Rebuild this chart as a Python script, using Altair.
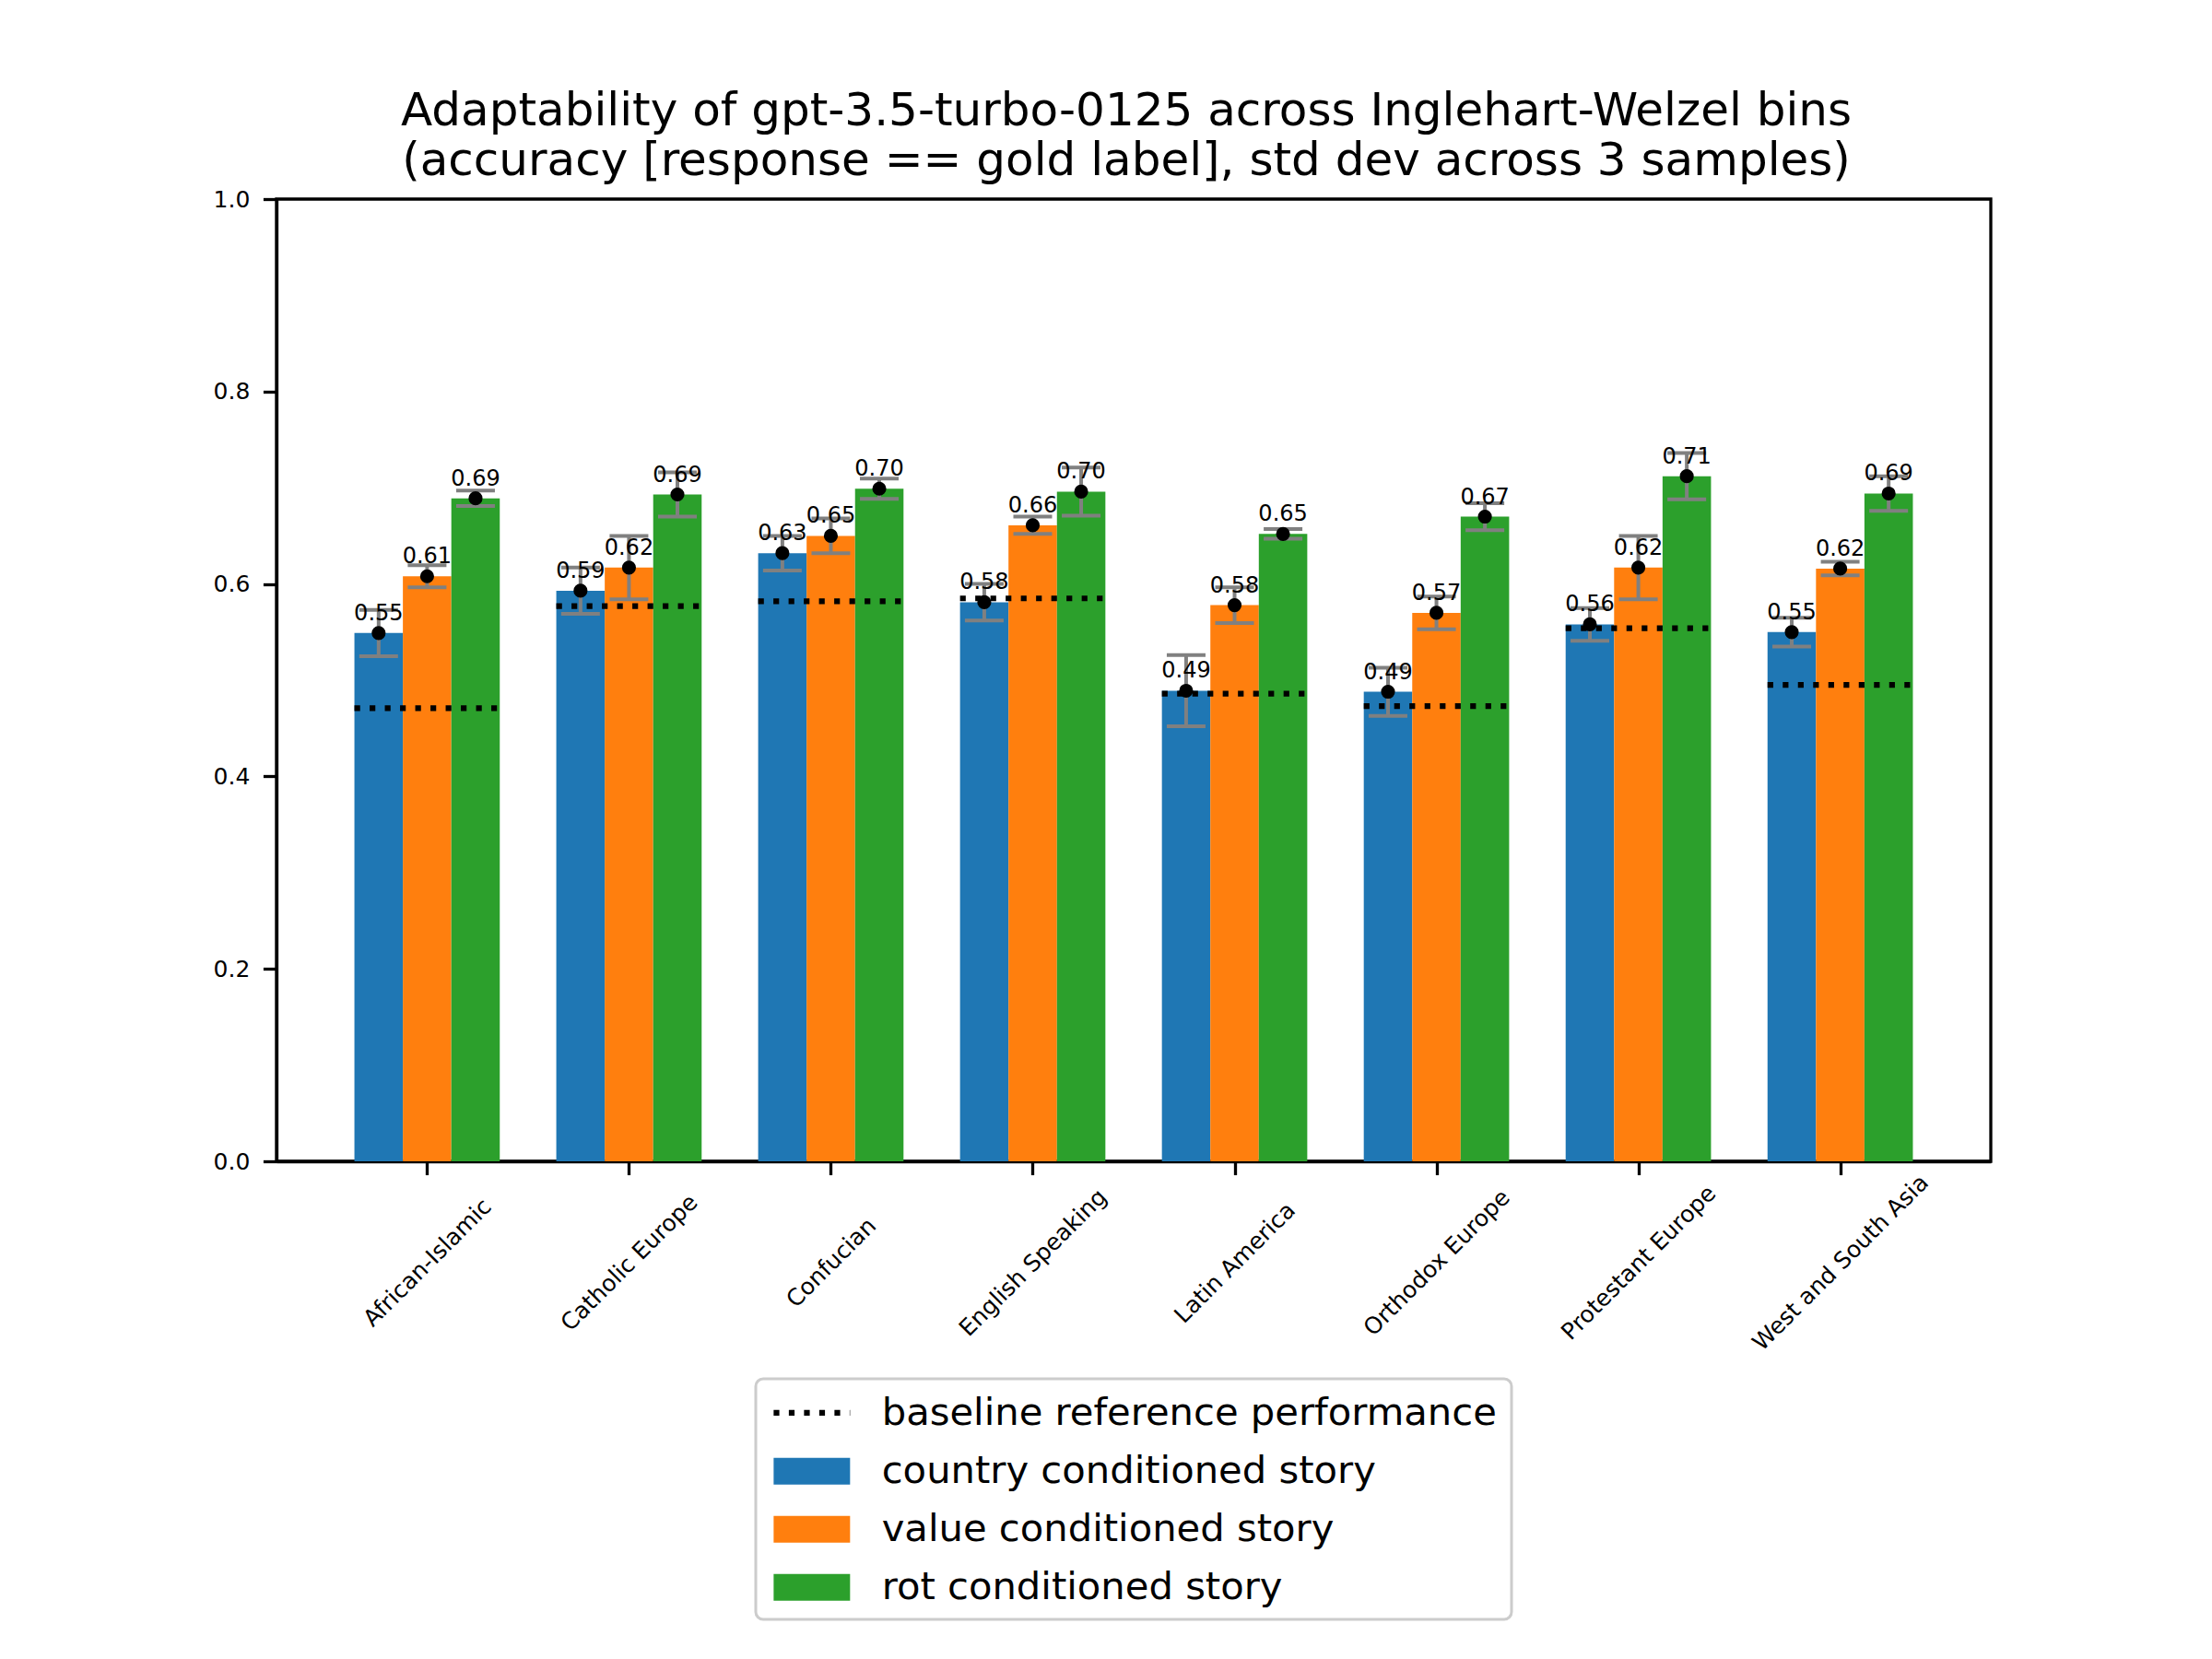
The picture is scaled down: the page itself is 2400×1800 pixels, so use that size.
import json
import altair as alt
import pandas as pd

categories = ["African-Islamic", "Catholic Europe", "Confucian", "English Speaking",
              "Latin America", "Orthodox Europe", "Protestant Europe", "West and South Asia"]
series_names = ["country conditioned story", "value conditioned story", "rot conditioned story"]
baseline_name = "baseline reference performance"

country_vals = [0.549, 0.593, 0.632, 0.581, 0.489, 0.488, 0.558, 0.550]
value_vals = [0.608, 0.617, 0.650, 0.661, 0.578, 0.570, 0.617, 0.616]
rot_vals = [0.689, 0.693, 0.699, 0.696, 0.652, 0.670, 0.712, 0.694]

country_std = [0.024, 0.024, 0.018, 0.019, 0.037, 0.025, 0.017, 0.015]
value_std = [0.0115, 0.033, 0.018, 0.009, 0.0185, 0.017, 0.033, 0.007]
rot_std = [0.008, 0.023, 0.0105, 0.025, 0.005, 0.014, 0.024, 0.018]

baseline_vals = [0.471, 0.577, 0.582, 0.585, 0.486, 0.473, 0.554, 0.495]

bar_colors = ["#1f77b4", "#ff7f0e", "#2ca02c"]

rows = []
for k, (name, vals, stds) in enumerate(zip(series_names,
                                            [country_vals, value_vals, rot_vals],
                                            [country_std, value_std, rot_std])):
    for i, cat in enumerate(categories):
        rows.append({"cat": cat, "idx": i, "series": name, "k": k, "v": vals[i], "s": stds[i]})
df = pd.DataFrame(rows)
bdf = pd.DataFrame({"cat": categories, "idx": list(range(len(categories))),
                    "base": baseline_vals, "kind": [baseline_name] * len(categories)})

FONT = "DejaVu Sans"
BAR_W = 0.24
X_MARGIN = 0.05 * (len(categories) - 1 + 3 * BAR_W)
X_LO = -1.5 * BAR_W - X_MARGIN
X_HI = len(categories) - 1 + 1.5 * BAR_W + X_MARGIN
DASH = [6.2, 10.3]
LEG_X, LEG_Y = 520, 1280
ROW_STEP = 63.4
LEG_FS = 41.7

xscale = alt.Scale(domain=[X_LO, X_HI], nice=False, zero=False)
yscale = alt.Scale(domain=[0, 1], nice=False)

label_expr = json.dumps(categories) + "[datum.value]"

x_axis = alt.Axis(values=list(range(len(categories))), labelExpr=label_expr, title=None,
                  labelAngle=-45, labelAlign="center", labelBaseline="middle",
                  labelPadding=95, labelFontSize=25, labelFont=FONT, labelColor="black",
                  labelLimit=0,
                  tickSize=14.6, tickWidth=3.3, tickColor="black", domainColor="black",
                  domainWidth=3.3, grid=False, labelOverlap=False, labelBound=False, labelFlush=False)
y_axis = alt.Axis(values=[0, 0.2, 0.4, 0.6, 0.8, 1.0], format=".1f", title=None,
                  labelFontSize=25, labelFont=FONT, labelColor="black", labelPadding=14.6,
                  tickSize=14.6, tickWidth=3.3, tickColor="black", domainColor="black",
                  domainWidth=3.3, grid=False, labelOverlap=False, labelFlush=False)

base = alt.Chart(df).transform_calculate(
    pos=f"datum.idx + (datum.k - 1) * {BAR_W}",
).transform_calculate(
    x0=f"datum.pos - {BAR_W / 2}",
    x1=f"datum.pos + {BAR_W / 2}",
    lo="datum.v - datum.s",
    hi="datum.v + datum.s",
)

RECT = "M-2.86,-1L2.86,-1L2.86,1L-2.86,1Z"
LINE = "M-2.86,0L2.86,0"

# baseline legend carries the frame; its blank bottom title reserves room for the three bar entries
base_legend = alt.Legend(
    title=["\u00a0", "\u00a0", "\u00a0"], titleOrient="bottom", titleFontSize=LEG_FS,
    titleFont=FONT, titleFontWeight="normal", titleColor="transparent", titleLineHeight=61.5,
    titlePadding=21, titleLimit=0,
    orient="none", legendX=LEG_X, legendY=LEG_Y, direction="vertical",
    labelFontSize=LEG_FS, labelFont=FONT, labelColor="black", labelLimit=0,
    symbolType=LINE, symbolSize=841, symbolOffset=24, labelOffset=55, rowPadding=20,
    symbolStrokeWidth=6.2, symbolStrokeColor="black", symbolDash=DASH, symbolOpacity=1,
    padding=16, strokeColor="#cccccc", cornerRadius=8, fillColor="white", zindex=1,
)
bar_legend = alt.Legend(
    title=None,
    orient="none", legendX=LEG_X, legendY=LEG_Y + ROW_STEP, direction="vertical",
    labelFontSize=LEG_FS, labelFont=FONT, labelColor="black", labelLimit=0,
    symbolType=RECT, symbolSize=841, symbolOffset=24, labelOffset=55, rowPadding=20,
    symbolStrokeWidth=0, symbolOpacity=1,
    padding=16, strokeColor="transparent", fillColor="transparent", zindex=2,
)

bars = base.mark_bar(opacity=1).encode(
    x=alt.X("x0:Q", scale=xscale, axis=x_axis),
    x2="x1:Q",
    y=alt.Y("v:Q", scale=yscale, axis=y_axis),
    y2=alt.datum(0),
    color=alt.Color("series:N", scale=alt.Scale(domain=series_names, range=bar_colors),
                    legend=bar_legend),
)

baseline = alt.Chart(bdf).transform_calculate(
    x0=f"datum.idx - {1.5 * BAR_W}",
    x1=f"datum.idx + {1.5 * BAR_W}",
).mark_rule(color="black", strokeWidth=6.2, strokeCap="butt").encode(
    x=alt.X("x0:Q", scale=xscale),
    x2="x1:Q",
    y=alt.Y("base:Q", scale=yscale),
    strokeDash=alt.StrokeDash("kind:N", scale=alt.Scale(domain=[baseline_name], range=[DASH]),
                              legend=base_legend),
)

err = base.mark_rule(color="gray", strokeWidth=4).encode(
    x=alt.X("pos:Q", scale=xscale),
    y=alt.Y("lo:Q", scale=yscale),
    y2="hi:Q",
)
cap_lo = base.mark_tick(color="gray", orient="horizontal", size=42, thickness=4, opacity=1).encode(
    x=alt.X("pos:Q", scale=xscale),
    y=alt.Y("lo:Q", scale=yscale),
)
cap_hi = base.mark_tick(color="gray", orient="horizontal", size=42, thickness=4, opacity=1).encode(
    x=alt.X("pos:Q", scale=xscale),
    y=alt.Y("hi:Q", scale=yscale),
)
points = base.mark_circle(color="black", size=230, opacity=1).encode(
    x=alt.X("pos:Q", scale=xscale),
    y=alt.Y("v:Q", scale=yscale),
)
labels = base.mark_text(font=FONT, fontSize=24, color="black", align="center",
                        baseline="alphabetic", dy=-14).encode(
    x=alt.X("pos:Q", scale=xscale),
    y=alt.Y("v:Q", scale=yscale),
    text=alt.Text("v:Q", format=".2f"),
)

chart = alt.layer(bars, baseline, err, cap_lo, cap_hi, points, labels).properties(
    width=1860,
    height=1044,
    title=alt.TitleParams(
        text=["Adaptability of gpt-3.5-turbo-0125 across Inglehart-Welzel bins",
              "(accuracy [response == gold label], std dev across 3 samples)"],
        fontSize=50, font=FONT, fontWeight="normal", color="black", anchor="middle",
        frame="group", offset=28, dy=64, dx=-8, baseline="alphabetic", lineHeight=54,
    ),
    autosize=alt.AutoSizeParams(type="none"),
    padding={"left": 292, "top": 208, "right": 232, "bottom": 532},
    background="white",
).configure_view(stroke="black", strokeWidth=3.3).configure_legend(strokeWidth=3)

chart.save("out.html", embed_options={"renderer": "svg", "actions": False})
